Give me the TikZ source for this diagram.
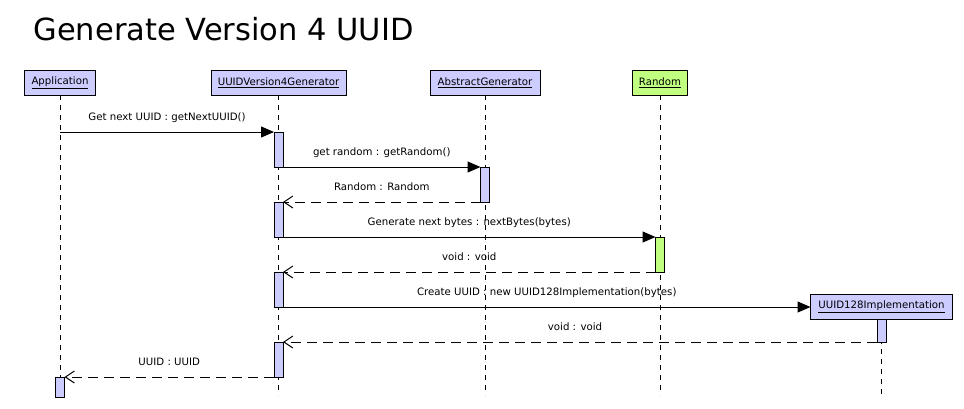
\documentclass[tikz,border=0pt]{standalone}
\usepackage{fontspec}
\setmainfont{DejaVu Sans}
\usetikzlibrary{calc}
\usetikzlibrary{arrows.meta}

\definecolor{lavender}{HTML}{CCCCFF}
\definecolor{randgreen}{HTML}{C0FF80}

\tikzset{
	small/.style={font=\fontsize{10.2}{12}\selectfont},
	head/.style={small, draw, line width=1pt, fill=lavender, inner sep=0pt, outer sep=0pt, minimum height=25pt},
	act/.style={draw, line width=1pt, fill=lavender, inner sep=0pt, outer sep=0pt, minimum width=9pt, minimum height=#1, anchor=north},
	lifeline/.style={line width=1pt, dash pattern=on 5pt off 5pt},
	call/.style={line width=1pt, -{Triangle[length=13pt,width=11pt]}},
	reply/.style={line width=1pt, dash pattern=on 10pt off 6pt, -{Straight Barb[length=9pt,width=12pt]}},
	msg/.style={small, anchor=base, yshift=12pt}
}

\begin{document}
\begin{tikzpicture}[x=1pt,y=-1pt]
			\useasboundingbox (0,0) rectangle (964,408);

			\node[anchor=base west, font=\fontsize{30.5}{36}\selectfont] (title) at (30,40) {Generate Version 4 UUID};

			% lifeline heads
			\node[head, minimum width=71pt] (app) at (60,82.5) {\underline{Application}};
			\node[head, minimum width=135pt] (gen) at (278.5,82.5) {\underline{UUIDVersion4Generator}};
			\node[head, minimum width=110pt] (agen) at (485,82.5) {\underline{AbstractGenerator}};
			\node[head, minimum width=55pt, fill=randgreen] (rand) at (660,82.5) {\underline{Random}};
			\node[head, minimum width=142pt] (uimp) at (881.5,306.5) {\underline{UUID128Implementation}};

			\draw[lifeline] (app.south) -- ($(app.south)+(0,303)$);
			\draw[lifeline] (gen.south) -- ($(gen.south)+(0,300)$);
			\draw[lifeline] (agen.south) -- ($(agen.south)+(0,300)$);
			\draw[lifeline] (rand.south) -- ($(rand.south)+(0,300)$);
			\draw[lifeline] (uimp.south) -- ($(uimp.south)+(0,79)$);

			% activations
			\coordinate (a0) at ($(app.south)+(0,37)$);
			\node[act=35pt] (g1) at ($(gen.south)+(0,37)$) {};
			\node[act=35pt] (ag1) at ($(agen.south)+(0,72)$) {};
			\node[act=35pt] (g2) at ($(gen.south)+(0,107)$) {};
			\node[act=35pt, fill=randgreen] (r1) at ($(rand.south)+(0,142)$) {};
			\node[act=35pt] (g3) at ($(gen.south)+(0,177)$) {};
			\node[act=23pt] (u1) at (uimp.south) {};
			\node[act=35pt] (g4) at ($(gen.south)+(0,247)$) {};
			\node[act=20pt] (a1) at ($(app.south)+(0,282)$) {};

			% messages
			\draw[call] (a0) -- (g1.north west) node[midway, msg] {Get next UUID : getNextUUID()};
			\draw[call] (g1.south east) -- (ag1.north west) node[midway, msg] {get random : getRandom()};
			\draw[reply] (ag1.south west) -- (g2.north east) node[midway, msg] {Random : Random};
			\draw[call] (g2.south east) -- (r1.north west) node[midway, msg] {Generate next bytes : nextBytes(bytes)};
			\draw[reply] (r1.south west) -- (g3.north east) node[midway, msg] {void : void};
			\draw[call] (g3.south east) -- (g3.south east -| uimp.west) node[midway, msg] {Create UUID : new UUID128Implementation(bytes)};
			\draw[reply] (u1.south west) -- (g4.north east) node[midway, msg, xshift=-5pt] {void : void};
			\draw[reply] (g4.south west) -- (a1.north east) node[midway, msg] {UUID : UUID};

		\end{tikzpicture}
\end{document}
